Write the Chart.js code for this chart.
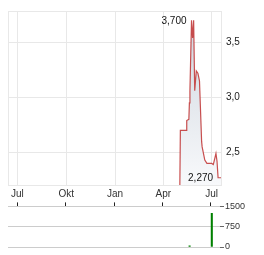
<!DOCTYPE html>
<html>
<head>
<meta charset="utf-8">
<script src="https://cdn.jsdelivr.net/npm/chart.js@4.4.1/dist/chart.umd.min.js"></script>
<style>
  html, body { margin: 0; padding: 0; background: #fff; }
  #wrap { position: relative; width: 264px; height: 255px; }
  canvas { position: absolute; left: 0; }
</style>
</head>
<body>
<div id="wrap">
  <canvas id="priceChart" width="264" height="200" style="top:0"></canvas>
  <canvas id="volChart" width="264" height="55" style="top:200px"></canvas>
</div>
<script>
// price history (first print is the listing reference, not labelled)
var priceDates = ['2024-05-02','2024-05-03','2024-05-14','2024-05-15','2024-05-19','2024-05-20',
  '2024-05-21','2024-05-24','2024-05-26','2024-05-28','2024-05-30','2024-06-02','2024-06-05',
  '2024-06-08','2024-06-12','2024-06-13','2024-06-18','2024-06-22','2024-07-01','2024-07-04',
  '2024-07-09','2024-07-11','2024-07-13','2024-07-19'];
var prices = [2.20, 2.70, 2.70, 2.79, 2.80, 2.95,
  3.06, 3.70, 3.54, 3.70, 3.06, 3.24, 3.22,
  3.15, 2.60, 2.55, 2.43, 2.40, 2.40, 2.39,
  2.49, 2.42, 2.27, 2.27];

var volDates = ['2024-05-22', '2024-07-03'];
var volumes = [40, 1240];

var monthTicks = ['2023-07-01', '2023-10-01', '2024-01-01', '2024-04-01', '2024-07-01'];
var monthLabels = ['Jul', 'Okt', 'Jan', 'Apr', 'Jul'];
var priceTicks = [2.5, 3.0, 3.5];
var priceTickLabels = ['2,5', '3,0', '3,5'];
var volTicks = [0, 750, 1500];

var FONT = 'Liberation Sans, Arial, sans-serif';
var xMin = -17.5, xMax = 383.5;
var yMin = 2.204, yMax = 3.785;

function dayNum(s) {
  return (Date.parse(s) - Date.parse('2023-07-01')) / 864e5;
}
var monthDays = monthTicks.map(dayNum);

function monthAxisTicks(axis) {
  var t = [{ value: xMin }];
  monthDays.forEach(function (d) { t.push({ value: d }); });
  t.push({ value: xMax });
  axis.ticks = t;
}
function monthLabel(v) {
  var i = monthDays.indexOf(v);
  return i < 0 ? '' : monthLabels[i];
}

var extremeLabels = {
  id: 'extremeLabels',
  afterDatasetsDraw: function (chart) {
    var meta = chart.getDatasetMeta(0);
    var vals = prices.slice(1);
    var hi = Math.max.apply(null, vals), lo = Math.min.apply(null, vals);
    var c = chart.ctx;
    c.save();
    c.font = '10px ' + FONT;
    c.fillStyle = '#111';
    c.textAlign = 'right';
    c.textBaseline = 'middle';
    [hi, lo].forEach(function (v) {
      var pt = meta.data[prices.indexOf(v)];
      c.fillText(v.toFixed(3).replace('.', ','), pt.x - 5, pt.y + 0.5);
    });
    c.restore();
  }
};

new Chart(document.getElementById('priceChart'), {
  type: 'line',
  data: {
    datasets: [{
      data: priceDates.map(function (d, i) { return { x: dayNum(d), y: prices[i] }; }),
      borderColor: 'rgba(192,48,48,0.85)',
      borderWidth: 1.2,
      pointRadius: 0,
      tension: 0,
      fill: 'start',
      backgroundColor: function (ctx) {
        var a = ctx.chart.chartArea;
        if (!a) return 'rgba(0,0,0,0)';
        var g = ctx.chart.ctx.createLinearGradient(0, a.top, 0, a.bottom);
        g.addColorStop(0, '#cdd5de');
        g.addColorStop(1, '#f8f9fb');
        return g;
      }
    }]
  },
  options: {
    responsive: false,
    animation: false,
    layout: { padding: { left: 8, top: 7, right: 0, bottom: 0 } },
    plugins: { legend: { display: false }, tooltip: { enabled: false } },
    scales: {
      x: {
        type: 'linear',
        min: xMin, max: xMax,
        afterBuildTicks: monthAxisTicks,
        afterFit: function (a) { a.height = 15; },
        grid: { color: '#e8e8e8', drawTicks: false },
        border: { color: '#e8e8e8' },
        ticks: {
          autoSkip: false, maxRotation: 0, padding: 3,
          font: { family: FONT, size: 10 }, color: '#333',
          callback: monthLabel
        }
      },
      y: {
        position: 'right',
        min: yMin, max: yMax,
        afterBuildTicks: function (a) {
          a.ticks = [{ value: yMin }].concat(priceTicks.map(function (v) { return { value: v }; }), [{ value: yMax }]);
        },
        afterFit: function (a) { a.width = 43; },
        grid: { color: '#e8e8e8', drawTicks: false },
        border: { color: '#e8e8e8' },
        ticks: {
          padding: 5,
          font: { family: FONT, size: 10 }, color: '#222',
          callback: function (v) {
            var i = priceTicks.indexOf(v);
            return i < 0 ? '' : priceTickLabels[i];
          }
        }
      }
    }
  },
  plugins: [extremeLabels]
});

new Chart(document.getElementById('volChart'), {
  type: 'bar',
  data: {
    datasets: [{
      data: volDates.map(function (d, i) { return { x: dayNum(d), y: volumes[i] }; }),
      backgroundColor: '#008000',
      barThickness: 1.4
    }]
  },
  options: {
    responsive: false,
    animation: false,
    layout: { padding: { left: 8, top: 2, right: 0, bottom: 8 } },
    plugins: { legend: { display: false }, tooltip: { enabled: false } },
    scales: {
      x: {
        type: 'linear',
        position: 'top',
        offset: false,
        min: xMin, max: xMax,
        afterBuildTicks: function (a) {
          a.ticks = monthDays.map(function (d) { return { value: d }; });
        },
        afterFit: function (a) { a.height = 4; },
        grid: { offset: false, drawOnChartArea: false, tickLength: 4, tickColor: '#222', tickWidth: 1 },
        border: { display: false },
        ticks: { display: false }
      },
      y: {
        position: 'right',
        min: 0, max: 1500,
        afterBuildTicks: function (a) {
          a.ticks = volTicks.map(function (v) { return { value: v }; });
        },
        afterFit: function (a) { a.width = 44; },
        grid: { color: '#cccccc', tickLength: 4, tickColor: '#666' },
        border: { display: false },
        ticks: {
          padding: 1,
          font: { family: FONT, size: 9 }, color: '#333',
          callback: function (v) { return String(v); }
        }
      }
    }
  }
});
</script>
</body>
</html>
